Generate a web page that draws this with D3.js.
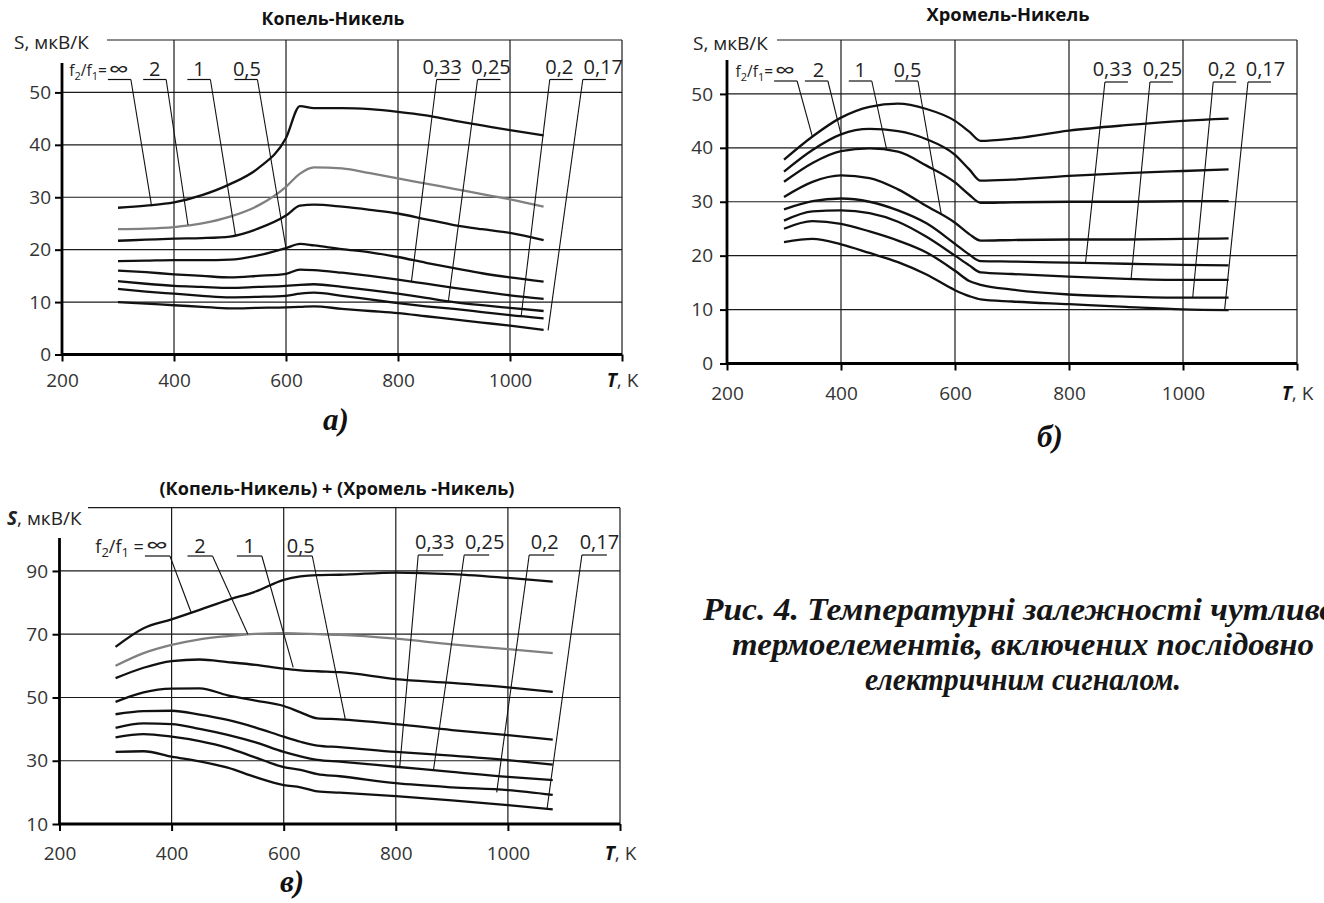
<!DOCTYPE html>
<html><head><meta charset="utf-8">
<script src="https://cdn.jsdelivr.net/npm/d3@7/dist/d3.min.js"></script>
<style>html,body{margin:0;padding:0;background:#fff;}svg{display:block;}</style>
</head><body>
<svg id="chart" width="1324" height="903"></svg>
<script>
// ================= DATA =================
const RATIO_LABELS = ["∞", "2", "1", "0,5", "0,33", "0,25", "0,2", "0,17"];
const X_TICKS = [200, 400, 600, 800, 1000, 1200];
const Y_TICKS_A = [0, 10, 20, 30, 40, 50];
const Y_TICKS_B = [0, 10, 20, 30, 40, 50];
const Y_TICKS_C = [10, 30, 50, 70, 90];
const GRID_A = [10, 20, 30, 40, 50, 60];
const GRID_B = [10, 20, 30, 40, 50, 60];
const GRID_C = [30, 50, 70, 90, 110];

const TITLE_A = "Копель-Никель";
const TITLE_B = "Хромель-Никель";
const TITLE_C = "(Копель-Никель) + (Хромель -Никель)";
const CAPTIONS = ["а)", "б)", "в)"];
const FIG_CAPTION = ["Рис. 4. Температурні залежності чутливо",
                     "термоелементів, включених послідовно",
                     "електричним сигналом."];

// Panel a: Копель-Никель
const T_A = [300, 350, 400, 450, 500, 550, 600, 625, 650, 700, 750, 800, 850, 900, 950, 1000, 1060];
const A_inf = [28.0, 28.4, 29.0, 30.4, 32.5, 35.5, 41.3, 47.4, 47.0, 47.0, 46.8, 46.3, 45.6, 44.6, 43.7, 42.8, 41.8];
const A_2   = [23.9, 24.0, 24.3, 25.0, 26.3, 28.4, 32.0, 34.5, 35.7, 35.5, 34.6, 33.6, 32.6, 31.6, 30.6, 29.6, 28.2];
const A_1   = [21.7, 21.9, 22.1, 22.2, 22.5, 24.0, 26.5, 28.4, 28.6, 28.2, 27.6, 26.9, 25.8, 24.7, 23.9, 23.2, 21.8];
const A_05  = [17.8, 17.9, 18.0, 18.0, 18.1, 18.9, 20.3, 21.1, 20.8, 20.1, 19.5, 18.6, 17.5, 16.5, 15.5, 14.7, 13.9];
const A_033 = [16.0, 15.7, 15.3, 15.0, 14.7, 15.0, 15.4, 16.2, 16.1, 15.6, 15.0, 14.3, 13.5, 12.7, 12.0, 11.3, 10.6];
const A_025 = [14.0, 13.5, 13.1, 12.9, 12.7, 12.9, 13.1, 13.3, 13.4, 12.9, 12.3, 11.6, 10.8, 10.0, 9.4, 8.9, 8.3];
const A_02  = [12.5, 12.0, 11.6, 11.2, 10.9, 11.0, 11.2, 11.6, 11.8, 11.2, 10.5, 9.8, 9.2, 8.7, 8.1, 7.5, 6.9];
const A_017 = [10.0, 9.7, 9.4, 9.1, 8.8, 8.9, 9.0, 9.1, 9.2, 8.7, 8.3, 7.9, 7.3, 6.7, 6.1, 5.5, 4.7];
const A_LEAD_T = [323, 386, 465, 549, 869, 942, 1071, 1130];
const A_TIP_T  = [360, 425, 510, 600, 824, 890, 1020, 1068];
const A_TIP_S  = [28.3, 24.7, 22.6, 20.3, 13.9, 10.2, 7.4, 4.6];

// Panel б: Хромель-Никель
const T_B = [300, 350, 400, 450, 500, 550, 600, 625, 645, 700, 800, 900, 1000, 1080];
const B_inf = [37.8, 42.1, 45.6, 47.6, 48.2, 47.2, 45.0, 43.0, 41.3, 41.7, 43.2, 44.2, 45.0, 45.4];
const B_2   = [35.6, 39.6, 42.5, 43.5, 43.1, 41.6, 38.7, 36.0, 33.9, 34.1, 34.8, 35.3, 35.7, 36.0];
const B_1   = [33.7, 37.2, 39.4, 39.9, 39.3, 36.7, 33.6, 31.3, 29.8, 29.9, 30.0, 30.0, 30.1, 30.1];
const B_05  = [30.9, 33.7, 34.9, 34.4, 32.3, 29.2, 26.1, 24.0, 22.8, 22.9, 23.0, 23.0, 23.1, 23.2];
const B_033 = [28.6, 30.1, 30.6, 30.0, 28.4, 26.0, 22.2, 20.2, 19.0, 18.9, 18.7, 18.5, 18.3, 18.2];
const B_025 = [26.5, 28.2, 28.4, 27.9, 26.3, 23.5, 20.0, 18.2, 16.9, 16.6, 16.1, 15.7, 15.5, 15.5];
const B_02  = [25.0, 26.4, 25.9, 24.5, 22.8, 20.6, 17.2, 15.3, 14.6, 13.7, 12.8, 12.4, 12.2, 12.2];
const B_017 = [22.5, 23.1, 22.1, 20.5, 18.8, 16.5, 13.6, 12.5, 11.9, 11.5, 11.0, 10.5, 10.05, 9.9];
const B_LEAD_T = [323, 377, 454, 535, 863, 942, 1053, 1114];
const B_TIP_T  = [350, 400, 480, 576, 829, 909, 1017, 1073];
const B_TIP_S  = [42.0, 42.5, 39.7, 27.6, 18.7, 15.8, 12.2, 9.95];

// Panel в: sum
const T_C = [300, 350, 400, 450, 500, 550, 600, 630, 660, 700, 800, 900, 1000, 1080];
const C_inf = [66.0, 71.9, 74.7, 77.7, 80.8, 83.5, 87.2, 88.3, 88.7, 88.8, 89.5, 89.0, 87.8, 86.6];
const C_2   = [60.0, 64.0, 66.6, 68.4, 69.4, 70.1, 70.3, 70.2, 70.0, 69.8, 68.6, 66.8, 65.3, 64.0];
const C_1   = [56.1, 59.4, 61.5, 62.0, 61.2, 60.3, 59.1, 58.6, 58.3, 58.0, 55.8, 54.6, 53.2, 51.8];
const C_05  = [48.6, 51.6, 52.8, 52.9, 50.7, 49.0, 47.3, 45.3, 43.4, 43.1, 41.6, 39.7, 38.1, 36.7];
const C_033 = [44.7, 45.7, 45.8, 44.6, 42.9, 40.5, 37.6, 36.0, 34.8, 34.3, 32.8, 31.6, 30.2, 28.8];
const C_025 = [40.4, 41.8, 41.6, 40.1, 38.2, 35.8, 32.8, 31.4, 30.3, 29.7, 28.1, 26.5, 24.9, 23.9];
const C_02  = [37.4, 38.4, 37.6, 36.2, 34.1, 31.0, 28.0, 27.1, 25.8, 25.1, 22.9, 21.6, 20.7, 19.2];
const C_017 = [32.8, 33.0, 31.3, 29.8, 27.8, 24.8, 22.3, 21.6, 20.3, 19.9, 18.8, 17.5, 16.0, 14.6];
const C_LEAD_T = [397, 473, 561, 651, 840, 922, 1038, 1132];
const C_TIP_T  = [435, 536, 617, 710, 807, 867, 980, 1070];
const C_TIP_S  = [76.8, 70.0, 59.5, 43.0, 28.0, 26.8, 20.0, 15.0];

// ================= DRAWING =================
const SANS = "'Open Sans', 'Noto Sans', 'DejaVu Sans', sans-serif";
const SERIF = "'Liberation Serif', 'Times New Roman', Times, serif";
const svg = d3.select('#chart');
svg.append('rect').attr('width', 1324).attr('height', 903).attr('fill', '#fff');

const panels = [
  { T: T_A, series: [A_inf, A_2, A_1, A_05, A_033, A_025, A_02, A_017], gray: 1,
    leadT: A_LEAD_T, tipT: A_TIP_T, tipS: A_TIP_S, yTicks: Y_TICKS_A, grid: GRID_A,
    title: TITLE_A, caption: CAPTIONS[0],
    lay: { x0: 62, x1: 622, yBot: 354.5, yTop: 40, dom: [0, 60], axisTopS: 55.6,
           topLineX: 107, yPad: 4, xPad: 12, underL: 79.5, underR: 79.5, txtL: 76, txtR: 74, uLen: 23,
           labDx: [0, 0, 0, 1, -6, 2, -2, 9], fSize: 15.5, fEq: '=',
           sx: 14, sy: 49, sBold: false, tx: 333, ty: 25, tw: 143, cx: 336, cy: 430 } },
  { T: T_B, series: [B_inf, B_2, B_1, B_05, B_033, B_025, B_02, B_017], gray: -1,
    leadT: B_LEAD_T, tipT: B_TIP_T, tipS: B_TIP_S, yTicks: Y_TICKS_B, grid: GRID_B,
    title: TITLE_B, caption: CAPTIONS[1],
    lay: { x0: 727, x1: 1297, yBot: 363.5, yTop: 40, dom: [0, 60], axisTopS: 56.3,
           topLineX: 777, yPad: 7, xPad: 16, underL: 81, underR: 82, txtL: 77, txtR: 76, uLen: 23,
           labDx: [0, 2, 0, 1, -4, 1, -3, 6], fSize: 15.5, fEq: '=',
           sx: 693, sy: 50, sBold: false, tx: 1008, ty: 21, tw: 163, cx: 1050, cy: 447 } },
  { T: T_C, series: [C_inf, C_2, C_1, C_05, C_033, C_025, C_02, C_017], gray: 1,
    leadT: C_LEAD_T, tipT: C_TIP_T, tipS: C_TIP_S, yTicks: Y_TICKS_C, grid: GRID_C,
    title: TITLE_C, caption: CAPTIONS[2],
    lay: { x0: 59.5, x1: 620, yBot: 824, yTop: 507.7, dom: [10, 110], axisTopS: 100.4,
           topLineX: 88, yPad: 4.5, xPad: 16, underL: 556, underR: 555, txtL: 553, txtR: 549, uLen: 25,
           labDx: [0, 0, 0, 1, 4, 8, 3, 5], fSize: 18, fEq: ' = ',
           sx: 7, sy: 525, sBold: true, tx: 337, ty: 495, tw: 355, cx: 292, cy: 892 } }
];

function drawPanel(p) {
  const L = p.lay;
  const g = svg.append('g');
  const x = d3.scaleLinear().domain([200, 1200]).range([L.x0, L.x1]);
  const y = d3.scaleLinear().domain(L.dom).range([L.yBot, L.yTop]);

  // title
  g.append('text').attr('x', L.tx - L.tw / 2).attr('y', L.ty)
    .attr('textLength', L.tw).attr('lengthAdjust', 'spacingAndGlyphs')
    .attr('font-family', SANS).attr('font-weight', 'bold').attr('font-size', 17.5).attr('fill', '#111')
    .text(p.title);

  // horizontal grid
  p.grid.forEach(s => {
    g.append('line').attr('x1', s === L.dom[1] ? L.topLineX : x(200)).attr('x2', x(1200))
      .attr('y1', y(s)).attr('y2', y(s)).attr('stroke', '#1a1a1a').attr('stroke-width', 1.2);
  });
  // vertical grid
  X_TICKS.slice(1).forEach(t => {
    g.append('line').attr('x1', x(t)).attr('x2', x(t)).attr('y1', y(L.dom[0])).attr('y2', y(L.dom[1]))
      .attr('stroke', '#1a1a1a').attr('stroke-width', 1.2);
  });

  // y axis
  const ya = g.append('g').attr('transform', `translate(${x(200)},0)`)
    .call(d3.axisLeft(y).tickValues(p.yTicks).tickSize(7).tickSizeOuter(0).tickPadding(L.yPad));
  ya.select('.domain').remove();
  ya.selectAll('line').attr('stroke', '#000').attr('stroke-width', 2);
  ya.selectAll('text').attr('font-family', SANS).attr('font-size', 19).attr('fill', '#333');
  g.append('line').attr('x1', x(200)).attr('x2', x(200)).attr('y1', y(L.dom[0]) + 1).attr('y2', y(L.axisTopS))
    .attr('stroke', '#000').attr('stroke-width', 2.8);

  // x axis
  const xa = g.append('g').attr('transform', `translate(0,${y(L.dom[0])})`)
    .call(d3.axisBottom(x).tickValues(X_TICKS).tickFormat(d => d === 1200 ? '' : d)
      .tickSize(7).tickSizeOuter(0).tickPadding(L.xPad));
  xa.select('.domain').remove();
  xa.selectAll('line').attr('stroke', '#000').attr('stroke-width', 2);
  xa.selectAll('text').attr('font-family', SANS).attr('font-size', 19).attr('fill', '#333');
  xa.selectAll('.tick').filter(d => d === 1200).select('text').each(function () {
    const t = d3.select(this);
    t.append('tspan').attr('font-weight', 'bold').attr('font-style', 'italic').attr('fill', '#111').text('T');
    t.append('tspan').text(', K');
  });
  g.append('line').attr('x1', x(200) - 1).attr('x2', x(1200)).attr('y1', y(L.dom[0])).attr('y2', y(L.dom[0]))
    .attr('stroke', '#000').attr('stroke-width', 2.8);

  // S label
  const st = g.append('text').attr('x', L.sx).attr('y', L.sy).attr('font-family', SANS)
    .attr('font-size', 19).attr('fill', '#222');
  st.append('tspan').attr('font-weight', L.sBold ? 'bold' : 'normal').attr('font-style', L.sBold ? 'italic' : 'normal').text('S');
  st.append('tspan').text(', мкВ/К');

  // curves
  const line = d3.line().x((d, i) => x(p.T[i])).y(d => y(d)).curve(d3.curveMonotoneX);
  p.series.forEach((s, k) => {
    g.append('path').attr('d', line(s)).attr('fill', 'none')
      .attr('stroke', k === p.gray ? '#808080' : '#111').attr('stroke-width', 2.3)
      .attr('stroke-linejoin', 'round');
  });

  // labels & leaders
  RATIO_LABELS.forEach((lab, i) => {
    const left = i < 4;
    const ux = x(p.leadT[i]);
    const uy = left ? L.underL : L.underR;
    const u0 = left ? ux - L.uLen : ux, u1 = left ? ux : ux + L.uLen;
    g.append('line').attr('x1', u0).attr('x2', u1).attr('y1', uy).attr('y2', uy)
      .attr('stroke', '#111').attr('stroke-width', 1.2);
    g.append('line').attr('x1', ux).attr('y1', uy).attr('x2', x(p.tipT[i])).attr('y2', y(p.tipS[i]))
      .attr('stroke', '#111').attr('stroke-width', 1.1);
    const lt = g.append('text').attr('x', (u0 + u1) / 2 + L.labDx[i]).attr('y', left ? L.txtL : L.txtR).attr('text-anchor', 'middle')
      .attr('font-family', SANS).attr('font-size', 20).attr('fill', '#222').text(lab);
    if (i === 0) {
      lt.attr('x', u0 + 1).attr('text-anchor', 'start').attr('textLength', L.uLen - 3)
        .attr('lengthAdjust', 'spacingAndGlyphs').attr('font-size', 22).attr('y', uy - 3);
      const fs = L.fSize, ss = Math.round(fs * 0.7);
      const t = g.append('text').attr('x', u0 - 1).attr('y', L.txtL).attr('text-anchor', 'end')
        .attr('font-family', SANS).attr('font-size', fs).attr('fill', '#222');
      t.append('tspan').text('f');
      t.append('tspan').attr('font-size', ss).attr('dy', 4).text('2');
      t.append('tspan').attr('dy', -4).text('/f');
      t.append('tspan').attr('font-size', ss).attr('dy', 4).text('1');
      t.append('tspan').attr('dy', -4).text(L.fEq);
    }
  });

  // panel caption
  g.append('text').attr('x', L.cx).attr('y', L.cy).attr('text-anchor', 'middle')
    .attr('font-family', SERIF).attr('font-weight', 'bold').attr('font-style', 'italic')
    .attr('font-size', 31).attr('fill', '#111').text(p.caption);
}

panels.forEach(drawPanel);

// figure caption
const capG = svg.append('g').attr('font-family', SERIF).attr('font-weight', 'bold')
  .attr('font-style', 'italic').attr('font-size', 31).attr('fill', '#161616');
capG.append('text').attr('x', 703).attr('y', 620).attr('textLength', 633).attr('lengthAdjust', 'spacingAndGlyphs').text(FIG_CAPTION[0]);
capG.append('text').attr('x', 732).attr('y', 655).attr('textLength', 582).attr('lengthAdjust', 'spacingAndGlyphs').text(FIG_CAPTION[1]);
capG.append('text').attr('x', 865).attr('y', 690).attr('textLength', 316).attr('lengthAdjust', 'spacingAndGlyphs').text(FIG_CAPTION[2]);
</script>
</body></html>
